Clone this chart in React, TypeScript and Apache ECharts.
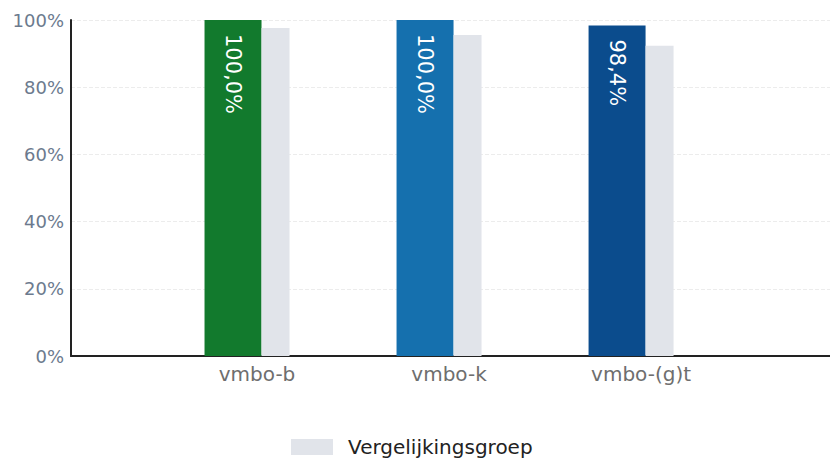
import React, { useEffect, useRef } from "react";
import * as echarts from "echarts";

const categories = ["vmbo-b", "vmbo-k", "vmbo-(g)t"];
const schoolValues = [100, 100, 98.4];
const compareValues = [97.6, 95.5, 92.3];
const barColors = ["#127a2d", "#1570ae", "#0b4c8d"];
const compareName = "Vergelijkingsgroep";

export default function App() {
  const ref = useRef<HTMLDivElement>(null);
  useEffect(() => {
    if (!ref.current) return;
    const chart = echarts.init(ref.current, null, { renderer: "svg" });
    chart.setOption({
      animation: false,
      backgroundColor: "#ffffff",
      textStyle: { fontFamily: "DejaVu Sans" },
      grid: { left: 71, right: 0, top: 20, bottom: 105 },
      legend: {
        data: [compareName],
        left: 291,
        top: 437,
        padding: 0,
        itemWidth: 42,
        itemHeight: 16,
        icon: "rect",
        textStyle: { fontSize: 20, color: "#222", fontFamily: "DejaVu Sans", padding: [0, 0, 0, 10] },
      },
      xAxis: {
        type: "value",
        min: -0.9167,
        max: 3.036,
        axisLine: { show: true, onZero: false, lineStyle: { color: "#222", width: 2 } },
        axisTick: { show: false },
        splitLine: { show: false },
        axisLabel: {
          customValues: [0, 1, 2],
          formatter: (v: number) => categories[Math.round(v)] ?? "",
          color: "#6e6e6e",
          fontSize: 20,
          margin: 8,
          padding: [0, 0, 0, 20],
          fontFamily: "DejaVu Sans",
        },
      },
      yAxis: {
        type: "value",
        min: 0,
        max: 100,
        interval: 20,
        axisLine: { show: true, onZero: false, lineStyle: { color: "#222", width: 2 } },
        axisTick: { show: false },
        splitLine: { show: true, lineStyle: { color: "#ececec", type: "dashed", width: 1 } },
        axisLabel: {
          formatter: "{value}%",
          color: "#6c7a8e",
          fontSize: 18,
          margin: 7,
          fontFamily: "DejaVu Sans",
        },
      },
      series: [
        {
          name: "School",
          type: "bar",
          barWidth: 57,
          barGap: "0%",
          data: schoolValues.map((v, i) => ({ value: [i, v], itemStyle: { color: barColors[i] } })),
          label: {
            show: true,
            position: "insideTop",
            rotate: -90,
            align: "left",
            verticalAlign: "middle",
            distance: 14,
            color: "#ffffff",
            fontSize: 21,
            fontFamily: "DejaVu Sans",
            formatter: (p: any) => p.value[1].toFixed(1).replace(".", ",") + "%",
          },
        },
        {
          name: compareName,
          type: "bar",
          barWidth: 28,
          barGap: "0%",
          itemStyle: { color: "#e1e4ea" },
          data: compareValues.map((v, i) => [i, v]),
        },
      ],
    });
    return () => chart.dispose();
  }, []);
  return (
    <div
      ref={ref}
      style={{ position: "fixed", left: 0, top: 0, width: 830, height: 461 }}
    />
  );
}
